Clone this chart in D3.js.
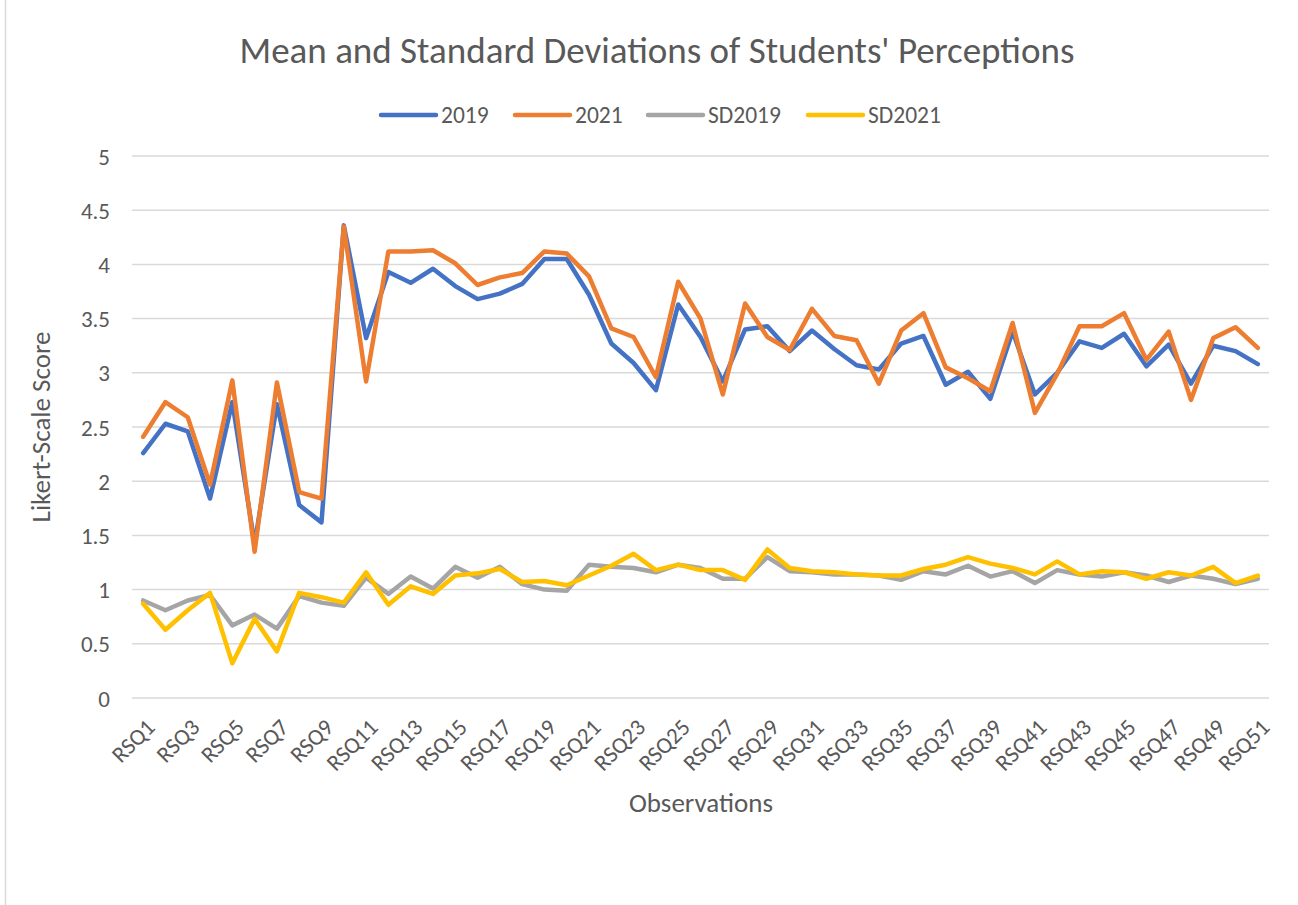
<!DOCTYPE html>
<html>
<head>
<meta charset="utf-8">
<script src="https://cdn.jsdelivr.net/npm/d3@7"></script>
<style>
  body { margin: 0; background: #fff; }
  text { font-family: Carlito, Lato, "Open Sans", sans-serif; fill: #595959; }
</style>
</head>
<body>
<svg id="chart"></svg>
<script>
// data
const categories = d3.range(1, 52).map(i => "RSQ" + i);

const mean2019 = [2.26, 2.53, 2.46, 1.84, 2.73, 1.42, 2.71, 1.78, 1.62, 4.36,
  3.32, 3.93, 3.83, 3.96, 3.80, 3.68, 3.73, 3.82, 4.05, 4.05,
  3.72, 3.27, 3.09, 2.84, 3.63, 3.33, 2.92, 3.40, 3.43, 3.20,
  3.39, 3.22, 3.07, 3.03, 3.27, 3.34, 2.89, 3.01, 2.76, 3.38,
  2.80, 3.00, 3.29, 3.23, 3.36, 3.06, 3.26, 2.90, 3.25, 3.20, 3.08];

const mean2021 = [2.41, 2.73, 2.59, 1.97, 2.93, 1.35, 2.91, 1.90, 1.84, 4.35,
  2.92, 4.12, 4.12, 4.13, 4.01, 3.81, 3.88, 3.92, 4.12, 4.10,
  3.89, 3.41, 3.33, 2.96, 3.84, 3.50, 2.80, 3.64, 3.33, 3.21,
  3.59, 3.34, 3.30, 2.90, 3.39, 3.55, 3.05, 2.95, 2.83, 3.46,
  2.63, 2.99, 3.43, 3.43, 3.55, 3.12, 3.38, 2.75, 3.32, 3.42, 3.23];

const sd2019 = [0.90, 0.81, 0.90, 0.95, 0.67, 0.77, 0.64, 0.94, 0.88, 0.85,
  1.11, 0.96, 1.12, 1.01, 1.21, 1.11, 1.21, 1.05, 1.00, 0.99,
  1.23, 1.21, 1.20, 1.16, 1.23, 1.20, 1.10, 1.10, 1.30, 1.17,
  1.16, 1.14, 1.14, 1.13, 1.09, 1.17, 1.14, 1.22, 1.12, 1.17,
  1.06, 1.18, 1.14, 1.12, 1.16, 1.13, 1.07, 1.13, 1.10, 1.05, 1.10];

const sd2021 = [0.87, 0.63, 0.81, 0.97, 0.32, 0.73, 0.43, 0.97, 0.93, 0.88,
  1.16, 0.86, 1.03, 0.96, 1.13, 1.15, 1.19, 1.07, 1.08, 1.04,
  1.13, 1.22, 1.33, 1.18, 1.23, 1.18, 1.18, 1.09, 1.37, 1.20,
  1.17, 1.16, 1.14, 1.13, 1.13, 1.19, 1.23, 1.30, 1.24, 1.20,
  1.14, 1.26, 1.14, 1.17, 1.16, 1.10, 1.16, 1.13, 1.21, 1.06, 1.13];

const seriesNames = ["2019", "2021", "SD2019", "SD2021"];
const seriesColors = ["#4472C4", "#ED7D31", "#A5A5A5", "#FFC000"];
const yTicks = [0, 0.5, 1, 1.5, 2, 2.5, 3, 3.5, 4, 4.5, 5];

const series = [mean2019, mean2021, sd2019, sd2021].map((vals, i) => ({
  name: seriesNames[i], color: seriesColors[i], values: vals
}));

const w = 1298, h = 905;
const plotLeft = 132, plotRight = 1269, plotTop = 156, plotBottom = 698;

const svg = d3.select("#chart").attr("width", w).attr("height", h);

// outer chart border (only left edge is visible in the picture)
svg.append("line")
   .attr("x1", 5.5).attr("x2", 5.5).attr("y1", 0).attr("y2", h)
   .attr("stroke", "#d9d9d9").attr("stroke-width", 1.5);

const x = d3.scalePoint().domain(categories).range([plotLeft, plotRight]).padding(0.5);
const y = d3.scaleLinear().domain([0, 5]).range([plotBottom, plotTop]);

// gridlines
svg.append("g")
   .selectAll("line")
   .data(yTicks)
   .join("line")
   .attr("x1", plotLeft).attr("x2", plotRight)
   .attr("y1", d => y(d)).attr("y2", d => y(d))
   .attr("stroke", "#d9d9d9").attr("stroke-width", 1.5);

// y axis labels
const yAxis = d3.axisLeft(y).tickValues(yTicks).tickSize(0).tickPadding(0).tickFormat(d3.format("~g"));
svg.append("g")
   .attr("transform", `translate(110, 0)`)
   .call(yAxis)
   .call(g => g.select(".domain").remove())
   .call(g => g.selectAll("text")
     .style("font-size", "23px")
     .attr("fill", "#595959")
     .attr("dy", "0.35em"));

// x axis labels, every other category
const xAxis = d3.axisBottom(x)
  .tickValues(categories.filter((d, i) => i % 2 === 0))
  .tickSize(0).tickPadding(0);
svg.append("g")
   .attr("transform", `translate(0, ${plotBottom})`)
   .call(xAxis)
   .call(g => g.select(".domain").remove())
   .call(g => g.selectAll("text")
     .style("font-size", "23px")
     .attr("fill", "#595959")
     .attr("text-anchor", "end")
     .attr("transform", "translate(7, 25) rotate(-45)")
     .attr("dy", "0.35em")
     .attr("y", 0));

// lines
const line = d3.line()
  .x((d, i) => x(categories[i]))
  .y(d => y(d));

svg.append("g")
   .selectAll("path")
   .data(series)
   .join("path")
   .attr("fill", "none")
   .attr("stroke", d => d.color)
   .attr("stroke-width", 4.5)
   .attr("stroke-linejoin", "round")
   .attr("stroke-linecap", "round")
   .attr("d", d => line(d.values));

// title
svg.append("text")
   .attr("x", 657).attr("y", 63)
   .attr("text-anchor", "middle")
   .style("font-size", "37px")
   .text("Mean and Standard Deviations of Students' Perceptions");

// axis titles
svg.append("text")
   .attr("transform", "translate(50, 427) rotate(-90)")
   .attr("text-anchor", "middle")
   .style("font-size", "27px")
   .text("Likert-Scale Score");

svg.append("text")
   .attr("x", 701).attr("y", 812)
   .attr("text-anchor", "middle")
   .style("font-size", "27px")
   .text("Observations");

// legend
const legendX = [381, 515, 648, 808];
const legend = svg.append("g")
  .selectAll("g")
  .data(series)
  .join("g")
  .attr("transform", (d, i) => `translate(${legendX[i]}, 115)`);

legend.append("line")
  .attr("x1", 0).attr("x2", 55)
  .attr("stroke", d => d.color)
  .attr("stroke-width", 4.5)
  .attr("stroke-linecap", "round");

legend.append("text")
  .attr("x", 60).attr("dy", "0.35em")
  .style("font-size", "23.5px")
  .text(d => d.name);
</script>
</body>
</html>
